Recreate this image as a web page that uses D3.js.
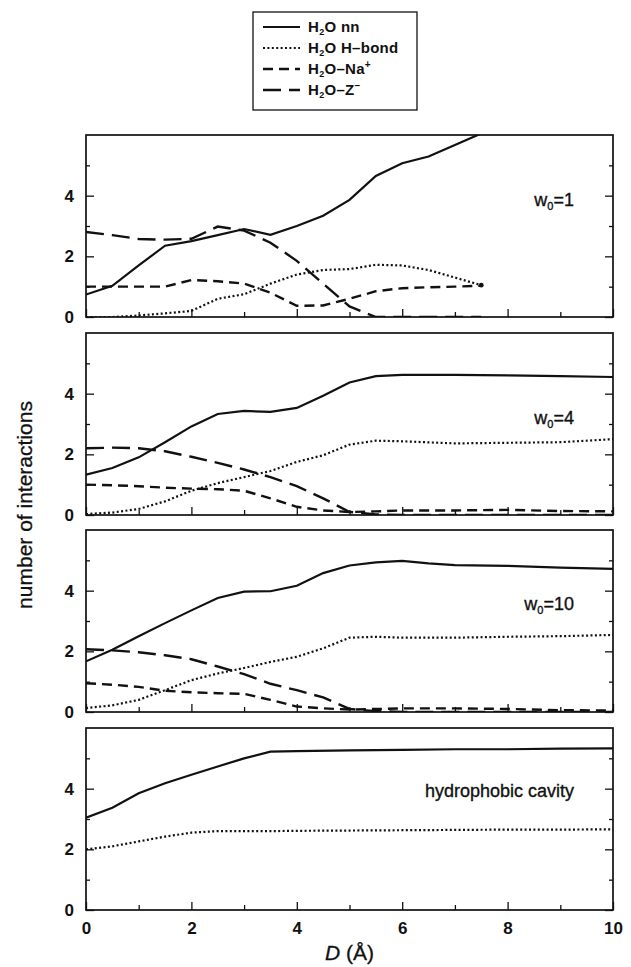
<!DOCTYPE html>
<html>
<head>
<meta charset="utf-8">
<script src="https://cdn.jsdelivr.net/npm/d3@7"></script>
<style>
  body { margin: 0; background: #fff; }
  text { font-family: "Liberation Sans", Arial, sans-serif; fill: #111; }
</style>
</head>
<body>
<script>
const w = 631;
const h = 967;

// distance D (Å) grids
const dW1 = [0, 0.5, 1, 1.5, 2, 2.5, 3, 3.5, 4, 4.5, 5, 5.5, 6, 6.5, 7, 7.5];
const dLong = [0, 0.5, 1, 1.5, 2, 2.5, 3, 3.5, 4, 4.5, 5, 5.5, 6, 7, 8, 9, 10];
const dW10 = [0, 0.5, 1, 1.5, 2, 2.5, 3, 3.5, 4, 4.5, 5, 5.5, 6, 6.5, 7, 8, 9, 10];
const dCav = [0, 0.5, 1, 1.5, 2, 2.5, 3, 3.5, 4, 5, 6, 7, 8, 9, 10];

// w0 = 1
const nnW1 = [0.74, 1.03, 1.7, 2.35, 2.5, 2.7, 2.9, 2.71, 3.0, 3.34, 3.86, 4.65, 5.07, 5.29, 5.67, 6.05];
const hbW1 = [0, 0, 0.05, 0.12, 0.2, 0.6, 0.75, 1.1, 1.4, 1.55, 1.58, 1.72, 1.7, 1.55, 1.3, 1.05];
const naW1 = [1.0, 1.0, 1.0, 1.0, 1.22, 1.18, 1.1, 0.8, 0.37, 0.38, 0.6, 0.85, 0.95, 0.98, 1.0, 1.03];
const zW1 = [2.8, 2.7, 2.57, 2.55, 2.58, 2.98, 2.85, 2.45, 1.85, 1.1, 0.35, 0, 0, 0, 0, 0];

// w0 = 4
const nnW4 = [1.33, 1.55, 1.9, 2.4, 2.92, 3.33, 3.43, 3.4, 3.53, 3.93, 4.37, 4.58, 4.62, 4.62, 4.6, 4.58, 4.55];
const hbW4 = [0.03, 0.08, 0.2, 0.45, 0.8, 1.05, 1.25, 1.45, 1.75, 1.97, 2.32, 2.45, 2.43, 2.36, 2.38, 2.4, 2.5];
const naW4 = [1.0, 0.98, 0.95, 0.9, 0.87, 0.85, 0.8, 0.55, 0.27, 0.15, 0.1, 0.12, 0.15, 0.15, 0.17, 0.13, 0.12];
const zW4 = [2.2, 2.22, 2.2, 2.1, 1.92, 1.72, 1.5, 1.25, 0.95, 0.55, 0.1, 0.02, 0, 0, 0, 0, 0];

// w0 = 10
const nnW10 = [1.67, 2.05, 2.5, 2.93, 3.35, 3.76, 3.97, 3.98, 4.16, 4.58, 4.83, 4.93, 4.98, 4.9, 4.84, 4.82, 4.76, 4.72];
const hbW10 = [0.13, 0.22, 0.4, 0.72, 1.05, 1.27, 1.45, 1.65, 1.82, 2.1, 2.45, 2.48, 2.45, 2.45, 2.45, 2.48, 2.5, 2.54];
const naW10 = [0.95, 0.9, 0.83, 0.7, 0.65, 0.62, 0.6, 0.4, 0.18, 0.12, 0.08, 0.1, 0.12, 0.12, 0.12, 0.1, 0.06, 0.05];
const zW10 = [2.07, 2.03, 1.97, 1.87, 1.74, 1.5, 1.25, 0.93, 0.72, 0.48, 0.1, 0.03, 0, 0, 0, 0, 0, 0];

// hydrophobic cavity
const nnCav = [3.04, 3.37, 3.85, 4.18, 4.46, 4.73, 5.0, 5.22, 5.24, 5.26, 5.28, 5.3, 5.3, 5.32, 5.33];
const hbCav = [2.0, 2.1, 2.26, 2.42, 2.55, 2.6, 2.6, 2.6, 2.61, 2.62, 2.63, 2.64, 2.65, 2.65, 2.66];

const xTicks = [0, 2, 4, 6, 8, 10];
const xMinor = [1, 3, 5, 7, 9];
const yTicks = [0, 2, 4];
const yMinor = [1, 3, 5];

const seriesNames = ["nn", "hb", "na", "z"];
const legendLabels = [
  ["H", "2", "O nn", ""],
  ["H", "2", "O H\u2013bond", ""],
  ["H", "2", "O\u2013Na", "+"],
  ["H", "2", "O\u2013Z", "\u2212"]
];
const panelLabels = [["w", "0", "=1"], ["w", "0", "=4"], ["w", "0", "=10"], ["hydrophobic cavity"]];

const panels = [
  { x: dW1, nn: nnW1, hb: hbW1, na: naW1, z: zW1 },
  { x: dLong, nn: nnW4, hb: hbW4, na: naW4, z: zW4 },
  { x: dW10, nn: nnW10, hb: hbW10, na: naW10, z: zW10 },
  { x: dCav, nn: nnCav, hb: hbCav }
];

const styles = {
  nn: { dash: null, width: 2.2 },
  hb: { dash: "2,2.4", width: 2.2 },
  na: { dash: "10,6", width: 2.4 },
  z: { dash: "18,8", width: 2.4 }
};

const left = 86, right = 613;
const panelTop = [135, 333, 530, 728];
const panelH = 182;

const svg = d3.select("body").append("svg").attr("width", w).attr("height", h);

const xScale = d3.scaleLinear().domain([0, 10]).range([left, right]);

panels.forEach(function (p, i) {
  const top = panelTop[i];
  const yScale = d3.scaleLinear().domain([0, 6]).range([top + panelH, top]);
  const g = svg.append("g");

  g.append("clipPath").attr("id", "clip" + i)
    .append("rect").attr("x", left).attr("y", top).attr("width", right - left).attr("height", panelH);

  // axes, ticks point inward
  g.append("g").attr("transform", "translate(" + left + ",0)")
    .call(d3.axisLeft(yScale).tickValues(yTicks).tickSize(-8).tickPadding(12).tickFormat(d3.format("d")))
    .call(a => a.select(".domain").remove())
    .call(a => a.selectAll("text").style("font-size", "17px").style("font-weight", "bold").attr("font-family", null));
  g.append("g").attr("transform", "translate(" + left + ",0)")
    .call(d3.axisLeft(yScale).tickValues(yMinor).tickSize(-4).tickFormat(""))
    .call(a => a.select(".domain").remove());
  g.append("g").attr("transform", "translate(" + right + ",0)")
    .call(d3.axisRight(yScale).tickValues(yTicks).tickSize(-8).tickFormat(""))
    .call(a => a.select(".domain").remove());
  g.append("g").attr("transform", "translate(" + right + ",0)")
    .call(d3.axisRight(yScale).tickValues(yMinor).tickSize(-4).tickFormat(""))
    .call(a => a.select(".domain").remove());

  const last = i === panels.length - 1;
  g.append("g").attr("transform", "translate(0," + (top + panelH) + ")")
    .call(d3.axisBottom(xScale).tickValues(xTicks).tickSize(-8).tickPadding(12)
      .tickFormat(last ? d3.format("d") : ""))
    .call(a => a.select(".domain").remove())
    .call(a => a.selectAll("text").style("font-size", "17px").style("font-weight", "bold").attr("font-family", null));
  g.append("g").attr("transform", "translate(0," + (top + panelH) + ")")
    .call(d3.axisBottom(xScale).tickValues(xMinor).tickSize(-5).tickFormat(""))
    .call(a => a.select(".domain").remove());

  g.selectAll(".tick line").attr("stroke", "#111").attr("stroke-width", 1.3);

  // lines
  seriesNames.forEach(function (s) {
    if (!p[s]) return;
    const line = d3.line().x((d, j) => xScale(p.x[j])).y(d => yScale(d));
    g.append("path")
      .datum(p[s])
      .attr("clip-path", "url(#clip" + i + ")")
      .attr("d", line)
      .attr("fill", "none")
      .attr("stroke", "#111")
      .attr("stroke-width", styles[s].width)
      .attr("stroke-dasharray", styles[s].dash);
  });

  // end dot of the H-bond curve at w0=1
  if (i === 0) {
    g.append("circle")
      .attr("cx", xScale(p.x[p.x.length - 1]))
      .attr("cy", yScale(p.hb[p.hb.length - 1]))
      .attr("r", 2.4).attr("fill", "#111");
  }

  g.append("rect")
    .attr("x", left).attr("y", top).attr("width", right - left).attr("height", panelH)
    .attr("fill", "none").attr("stroke", "#111").attr("stroke-width", 1.7);

  // panel label
  const lab = panelLabels[i];
  const t = g.append("text")
    .attr("x", 574)
    .attr("y", yScale([3.67, 3.0, 3.37, 3.74][i]))
    .attr("text-anchor", "end")
    .attr("stroke", "#111").attr("stroke-width", 0.35)
    .style("font-size", "18px");
  t.append("tspan").text(lab[0]);
  if (lab.length > 1) {
    t.append("tspan").attr("dy", 4).style("font-size", "11px").text(lab[1]);
    t.append("tspan").attr("dy", -4).text(lab[2]);
  }
});

// legend
const lg = svg.append("g");
lg.append("rect").attr("x", 253).attr("y", 12).attr("width", 164).attr("height", 98)
  .attr("fill", "#fff").attr("stroke", "#111").attr("stroke-width", 1.3);
seriesNames.forEach(function (s, i) {
  const yy = 27 + i * 21;
  lg.append("line").attr("x1", 263).attr("x2", 300).attr("y1", yy).attr("y2", yy)
    .attr("stroke", "#111").attr("stroke-width", styles[s].width)
    .attr("stroke-dasharray", styles[s].dash);
  const lab = legendLabels[i];
  const t = lg.append("text").attr("x", 308).attr("y", yy + 5)
    .style("font-size", "15px").style("font-weight", "bold").style("letter-spacing", "0.3px");
  t.append("tspan").text(lab[0]);
  t.append("tspan").attr("dy", 3).style("font-size", "9px").text(lab[1]);
  t.append("tspan").attr("dy", -3).text(lab[2]);
  if (lab[3]) t.append("tspan").attr("dy", -6).style("font-size", "10px").text(lab[3]);
});

// axis titles
svg.append("text")
  .attr("transform", "translate(32,505) rotate(-90)")
  .attr("text-anchor", "middle")
  .attr("stroke", "#111").attr("stroke-width", 0.3)
  .style("font-size", "21px")
  .text("number of interactions");

const xt = svg.append("text")
  .attr("x", (left + right) / 2)
  .attr("y", 960)
  .attr("text-anchor", "middle")
  .attr("stroke", "#111").attr("stroke-width", 0.3)
  .style("font-size", "21px");
xt.append("tspan").style("font-style", "italic").text("D");
xt.append("tspan").text(" (\u00c5)");
</script>
</body>
</html>
